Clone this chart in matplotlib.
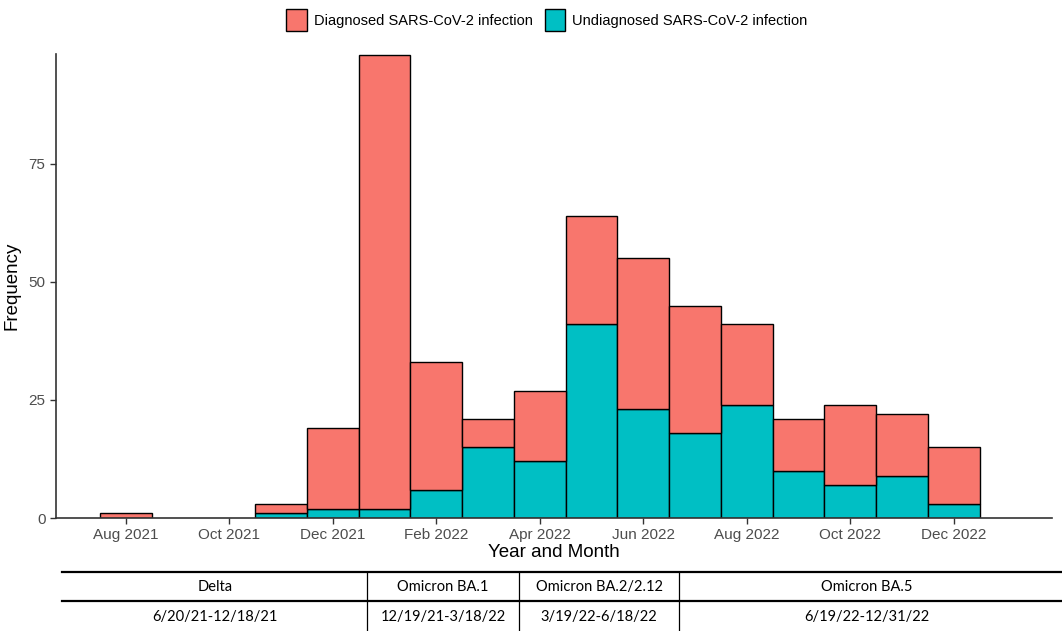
import matplotlib
matplotlib.use("Agg")
import matplotlib.pyplot as plt
import matplotlib.patches as mpatches
from matplotlib.lines import Line2D
import numpy as np

plt.rcParams['font.family'] = ['Liberation Sans', 'DejaVu Sans']

months = ["Aug 2021", "Sep 2021", "Oct 2021", "Nov 2021", "Dec 2021", "Jan 2022",
          "Feb 2022", "Mar 2022", "Apr 2022", "May 2022", "Jun 2022", "Jul 2022",
          "Aug 2022", "Sep 2022", "Oct 2022", "Nov 2022", "Dec 2022"]
undiagnosed = [0, 0, 0, 1, 2, 2, 6, 15, 12, 41, 23, 18, 24, 10, 7, 9, 3]
diagnosed = [1, 0, 0, 2, 17, 96, 27, 6, 15, 23, 32, 27, 17, 11, 17, 13, 12]
tick_labels = ["Aug 2021", "Oct 2021", "Dec 2021", "Feb 2022", "Apr 2022",
               "Jun 2022", "Aug 2022", "Oct 2022", "Dec 2022"]
y_ticks = [0, 25, 50, 75]

variants = ["Delta", "Omicron BA.1", "Omicron BA.2/2.12", "Omicron BA.5"]
periods = ["6/20/21-12/18/21", "12/19/21-3/18/22", "3/19/22-6/18/22", "6/19/22-12/31/22"]

RED = "#F8766D"
TEAL = "#00BFC4"

W, H = 1062, 631
fig = plt.figure(figsize=(W / 100, H / 100), dpi=100)
ax = fig.add_axes([56 / W, 1 - 518 / H, (1052 - 56) / W, (518 - 54) / H])

x = np.arange(len(months))
und = np.array(undiagnosed)
dia = np.array(diagnosed)
mask_u = und > 0
mask_d = dia > 0
ax.bar(x[mask_u], und[mask_u], width=1.0, color=TEAL, edgecolor="black", linewidth=1.0, zorder=2)
ax.bar(x[mask_d], dia[mask_d], bottom=und[mask_d], width=1.0, color=RED,
       edgecolor="black", linewidth=1.0, zorder=2)

ax.set_xlim(-1.35, 17.9)
ax.set_ylim(0, 98.3)
tick_pos = [months.index(t) for t in tick_labels]
ax.set_xticks(tick_pos)
ax.set_xticklabels(tick_labels)
ax.set_yticks(y_ticks)
ax.tick_params(axis='both', colors="#333333", labelcolor="#4d4d4d", labelsize=11,
               length=4, width=1)
for s in ["top", "right"]:
    ax.spines[s].set_visible(False)
for s in ["left", "bottom"]:
    ax.spines[s].set_color("#333333")
    ax.spines[s].set_linewidth(1.2)
ax.set_xlabel("Year and Month", fontsize=13.5, labelpad=1)
ax.set_ylabel("Frequency", fontsize=13.5, labelpad=6)

handles = [mpatches.Patch(facecolor=RED, edgecolor="black", linewidth=1.0),
           mpatches.Patch(facecolor=TEAL, edgecolor="black", linewidth=1.0)]
fig.legend(handles, ["Diagnosed SARS-CoV-2 infection", "Undiagnosed SARS-CoV-2 infection"],
           loc="center", bbox_to_anchor=(547 / W, 1 - 20 / H), ncol=2, frameon=False,
           fontsize=10.5, handlelength=1.4, handleheight=2.0, columnspacing=0.8,
           handletextpad=0.5)

# variant table
def fx(px):
    return px / W

def fy(py):
    return 1 - py / H

fig.add_artist(Line2D([fx(62), fx(1062)], [fy(572), fy(572)], color="black", linewidth=1.6))
fig.add_artist(Line2D([fx(62), fx(1062)], [fy(601), fy(601)], color="black", linewidth=1.6))
for vx in [367, 519, 679]:
    fig.add_artist(Line2D([fx(vx), fx(vx)], [fy(572), fy(631)], color="black", linewidth=0.9))
centers = [215, 443, 599, 867]
tfam = ['Lato', 'Liberation Sans', 'DejaVu Sans']
for cx, v, p in zip(centers, variants, periods):
    fig.text(fx(cx), fy(587), v, ha="center", va="center", fontsize=10.5, family=tfam)
    fig.text(fx(cx), fy(617), p, ha="center", va="center", fontsize=10.5, family=tfam)

fig.savefig("out.png", dpi=100)
